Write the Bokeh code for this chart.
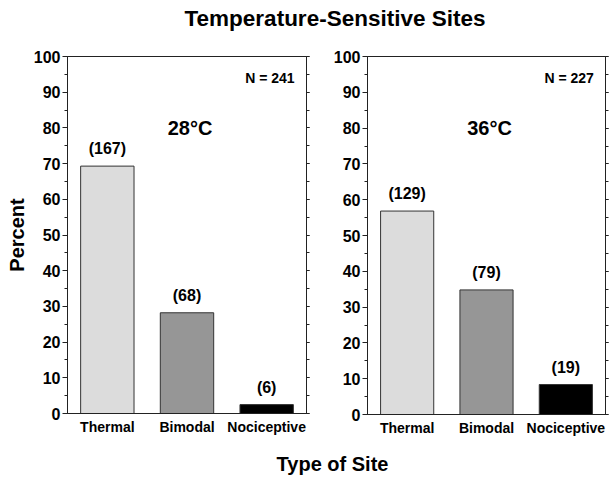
from bokeh.plotting import figure
from bokeh.models import (ColumnDataSource, FactorRange, Range1d, LinearAxis,
                          SingleIntervalTicker, LabelSet, Div)
from bokeh.layouts import column, row
from bokeh.core.properties import value
from bokeh.embed import file_html
from bokeh.resources import INLINE

# ---------------- data ----------------
categories = ["Thermal", "Bimodal", "Nociceptive"]
counts_28 = [167, 68, 6]
counts_36 = [129, 79, 19]
total_28 = 241
total_36 = 227
temp_labels = ["28°C", "36°C"]
bar_colors = ["#dcdcdc", "#969696", "#000000"]
title_text = "Temperature-Sensitive Sites"
xlabel_text = "Type of Site"
ylabel_text = "Percent"

FONT = "Liberation Sans"
LINE = "#222222"


def make_panel(counts, total, temp, frame_w, frame_h, ylabel):
    pct = [c / total * 100.0 for c in counts]
    src = ColumnDataSource(dict(cat=categories, pct=pct,
                                lab=["(%d)" % c for c in counts],
                                color=bar_colors))
    p = figure(x_range=FactorRange(*categories), y_range=Range1d(0, 100),
               frame_width=frame_w, frame_height=frame_h, title=None,
               output_backend="svg", toolbar_location=None, tools="")
    p.vbar(x="cat", top="pct", width=0.67, fill_color="color",
           line_color="#333333", line_width=1, source=src)

    p.xgrid.visible = False
    p.ygrid.visible = False
    p.outline_line_color = LINE
    p.outline_line_width = 1
    p.background_fill_color = "white"
    p.border_fill_color = "white"

    # bottom axis
    xa = p.xaxis[0]
    xa.axis_line_color = LINE
    xa.major_tick_line_color = None
    xa.minor_tick_line_color = None
    xa.major_tick_out = 0
    xa.major_label_standoff = 5
    xa.major_label_text_font = FONT
    xa.major_label_text_font_style = "bold"
    xa.major_label_text_font_size = "14px"
    xa.major_label_text_color = "black"

    # left axis
    ya = p.yaxis[0]
    ya.ticker = SingleIntervalTicker(interval=10, num_minor_ticks=2)
    ya.axis_line_color = LINE
    ya.major_tick_line_color = LINE
    ya.minor_tick_line_color = LINE
    ya.major_tick_in = 0
    ya.major_tick_out = 5
    ya.minor_tick_in = 0
    ya.minor_tick_out = 3
    ya.major_label_standoff = 2
    ya.major_label_text_font = FONT
    ya.major_label_text_font_style = "bold"
    ya.major_label_text_font_size = "16px"
    ya.major_label_text_color = "black"
    if ylabel:
        ya.axis_label = ylabel
        ya.axis_label_text_font = FONT
        ya.axis_label_text_font_style = "bold"
        ya.axis_label_text_font_size = "20px"
        ya.axis_label_text_color = "black"
        ya.axis_label_standoff = 3

    # right axis (ticks only)
    ra = LinearAxis(ticker=SingleIntervalTicker(interval=10, num_minor_ticks=2))
    ra.axis_line_color = LINE
    ra.major_tick_line_color = LINE
    ra.minor_tick_line_color = LINE
    ra.major_tick_in = 0
    ra.major_tick_out = 3
    ra.minor_tick_in = 0
    ra.minor_tick_out = 3
    ra.major_label_text_font_size = "0px"
    ra.major_label_text_color = None
    ra.major_label_standoff = 0
    p.add_layout(ra, "right")

    # count labels above bars
    p.add_layout(LabelSet(x="cat", y="pct", text="lab", source=src,
                          y_offset=12, text_align="center",
                          text_baseline="alphabetic",
                          text_font=value(FONT), text_font_style="bold",
                          text_font_size="16px", text_color="black"))

    # temperature label
    tsrc = ColumnDataSource(dict(x=[categories[1]], y=[78], t=[temp]))
    p.add_layout(LabelSet(x="x", y="y", text="t", source=tsrc, x_offset=3,
                          text_align="center", text_baseline="alphabetic",
                          text_font=value(FONT), text_font_style="bold",
                          text_font_size="20px", text_color="black"))

    # N label
    nsrc = ColumnDataSource(dict(x=[categories[2]], y=[92.5], t=["N = %d" % total]))
    p.add_layout(LabelSet(x="x", y="y", text="t", source=nsrc, x_offset=28,
                          text_align="right", text_baseline="alphabetic",
                          text_font=value(FONT), text_font_style="bold",
                          text_font_size="14px", text_color="black"))
    return p


p1 = make_panel(counts_28, total_28, temp_labels[0], 239, 357, ylabel_text)
p1.min_border_top = 20
p1.min_border_left = 67
p1.min_border_right = 9
p1.min_border_bottom = 40

p2 = make_panel(counts_36, total_36, temp_labels[1], 238, 358, None)
p2.min_border_top = 17
p2.min_border_left = 52
p2.min_border_right = 4
p2.min_border_bottom = 42

title_div = Div(
    text=('<div style="box-sizing:border-box;width:615px;padding-left:55px;'
          'padding-top:8px;text-align:center;'
          'font-family:\'Liberation Sans\',Arial,sans-serif;'
          'font-weight:bold;font-size:22.5px;line-height:22px;color:black;">'
          + title_text + '</div>'),
    width=615, height=36, margin=0)

xlabel_div = Div(
    text=('<div style="box-sizing:border-box;width:615px;padding-left:50px;'
          'padding-top:3px;text-align:center;'
          'font-family:\'Liberation Sans\',Arial,sans-serif;'
          'font-weight:bold;font-size:20px;line-height:16px;color:black;">'
          + xlabel_text + '</div>'),
    width=615, height=26, margin=0)

layout = column(title_div, row(p1, p2), xlabel_div)

open("out.html", "w").write(file_html(layout, INLINE))
